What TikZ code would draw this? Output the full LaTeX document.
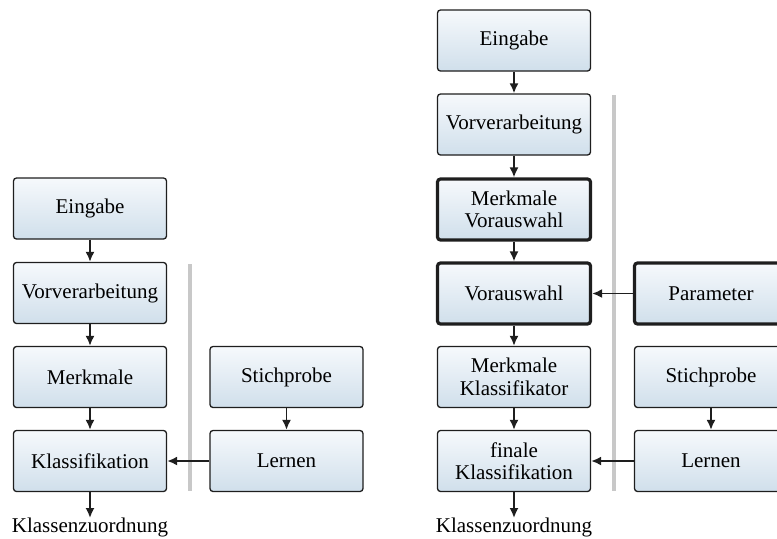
\documentclass[tikz,border=0pt]{standalone}
\usepackage{fontspec}
\setmainfont{Liberation Serif}
\usetikzlibrary{arrows.meta,positioning}
\definecolor{ink}{RGB}{30,30,30}
\definecolor{boxtop}{RGB}{246,249,252}
\definecolor{boxbot}{RGB}{208,223,235}
\definecolor{bar}{RGB}{200,200,200}
\tikzset{
  box/.style={draw=ink, line width=0.65pt, rounded corners=1.5pt, top color=boxtop, bottom color=boxbot,
    minimum width=76.5pt, minimum height=30.5pt, inner sep=0pt, align=center,
    font=\fontsize{10.5}{11.2}\selectfont},
  boldbox/.style={box, line width=1.6pt},
  flow/.style={-{Latex[length=5pt,width=4.5pt]}, line width=0.9pt, draw=ink},
  sep/.style={draw=bar, line width=2pt},
  outtext/.style={inner sep=0pt, anchor=north, font=\fontsize{10.5}{11.2}\selectfont}
}
\begin{document}
\begin{tikzpicture}[x=0.5pt,y=-0.5pt]
  \useasboundingbox (0,0) rectangle (777,538);
  % linkes Schema
  \node[box] (ein1) at (90,208.5) {Eingabe};
  \node[box] (vor1) at (90,293) {Vorverarbeitung};
  \node[box] (mer1) at (90,377) {Merkmale};
  \node[box] (kla1) at (90,461) {Klassifikation};
  \node[outtext] (zuo1) at (90,518) {Klassenzuordnung};
  \node[box] (sti1) at (286.5,377) {Stichprobe};
  \node[box] (ler1) at (286.5,461) {Lernen};
  \draw[sep] (190,264)--(190,491);
  \draw[flow] (ein1) -- (vor1);
  \draw[flow] (vor1) -- (mer1);
  \draw[flow] (mer1) -- (kla1);
  \draw[flow] (kla1) -- (zuo1);
  \draw[flow] (sti1) -- (ler1);
  \draw[flow] (ler1) -- (kla1);
  % rechtes Schema
  \node[box] (ein2) at (514,40.5) {Eingabe};
  \node[box] (vor2) at (514,124.5) {Vorverarbeitung};
  \node[boldbox] (mva2) at (514,209.5) {Merkmale\\Vorauswahl};
  \node[boldbox] (vau2) at (514,293.5) {Vorauswahl};
  \node[box] (mkl2) at (514,377) {Merkmale\\Klassifikator};
  \node[box] (fkl2) at (514,461) {finale\\Klassifikation};
  \node[outtext] (zuo2) at (514,518) {Klassenzuordnung};
  \node[boldbox] (par2) at (711,293.5) {Parameter};
  \node[box] (sti2) at (711,377) {Stichprobe};
  \node[box] (ler2) at (711,461) {Lernen};
  \draw[sep] (614,95)--(614,491);
  \draw[flow] (ein2) -- (vor2);
  \draw[flow] (vor2) -- (mva2);
  \draw[flow] (mva2) -- (vau2);
  \draw[flow] (vau2) -- (mkl2);
  \draw[flow] (mkl2) -- (fkl2);
  \draw[flow] (fkl2) -- (zuo2);
  \draw[flow] (par2) -- (vau2);
  \draw[flow] (sti2) -- (ler2);
  \draw[flow] (ler2) -- (fkl2);
\end{tikzpicture}
\end{document}
